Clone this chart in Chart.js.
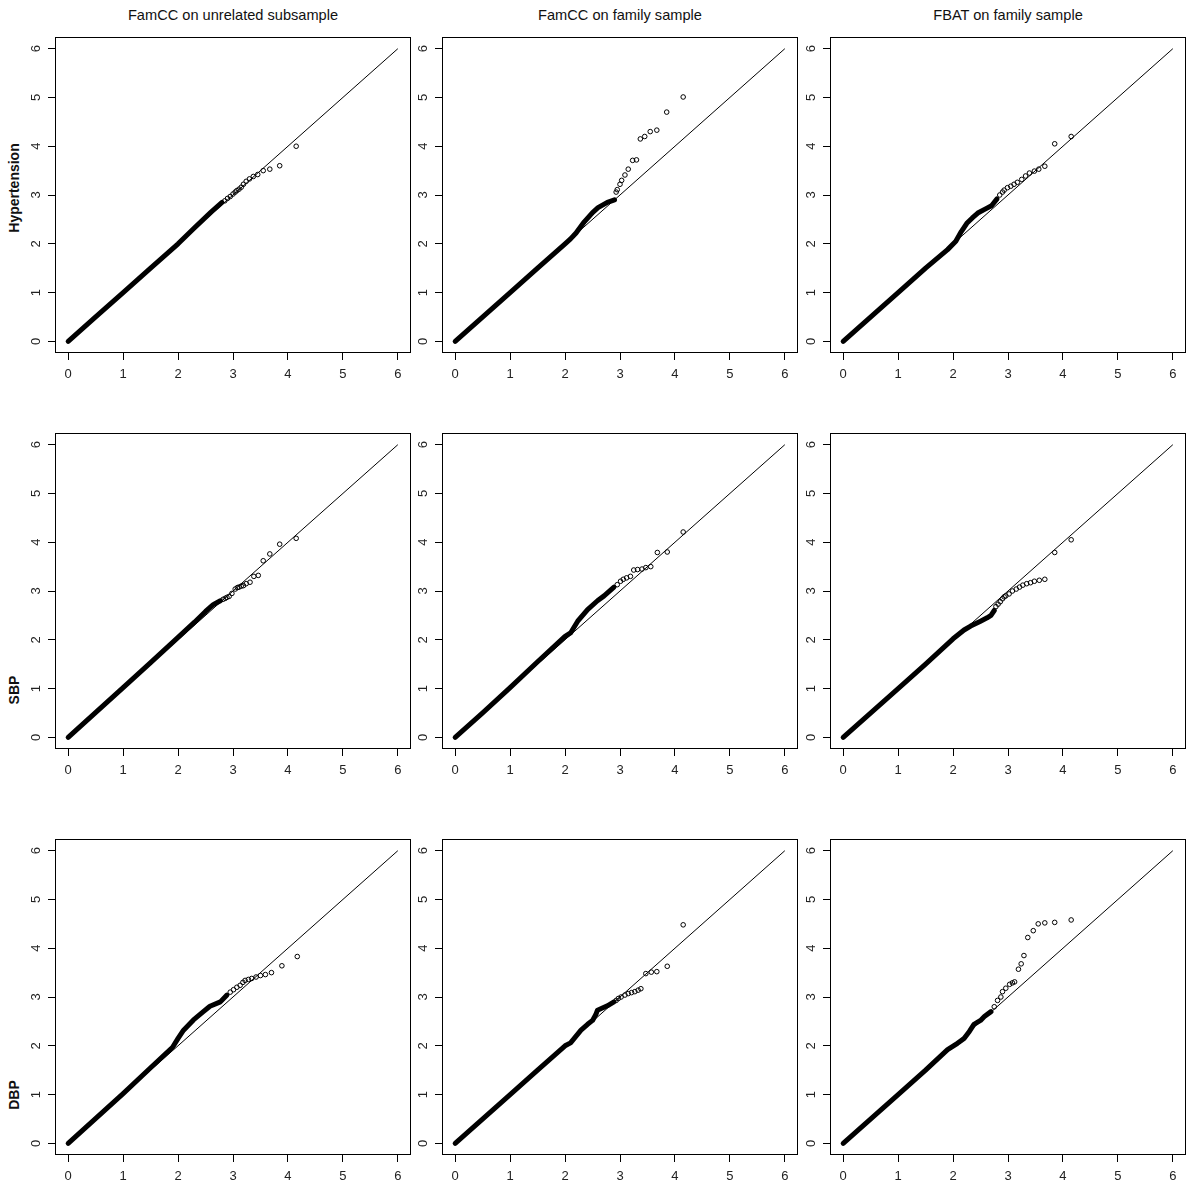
<!DOCTYPE html>
<html>
<head>
<meta charset="utf-8">
<script src="https://cdn.jsdelivr.net/npm/chart.js@4.4.1/dist/chart.umd.min.js"></script>
<style>
  html, body { margin:0; padding:0; background:#fff; width:1200px; height:1190px; overflow:hidden; }
  body { position:relative; font-family:"Liberation Sans", Arial, sans-serif; }
  canvas { position:absolute; }
  .title { position:absolute; width:356px; text-align:center; font-size:14.6px; line-height:20px; color:#111; }
  .rowlab { position:absolute; font-size:14px; font-weight:bold; color:#111; white-space:nowrap;
            transform:translate(-50%,-50%) rotate(-90deg); }
</style>
</head>
<body>
<script>
// ---------------- data ----------------
const tickValues = [0, 1, 2, 3, 4, 5, 6];
const colTitles = ["FamCC on unrelated subsample", "FamCC on family sample", "FBAT on family sample"];
const rowLabels = ["Hypertension", "SBP", "DBP"];
const refLine = [[0, 0], [6, 6]];

// Hypertension
const hypUnrelCurve = [[0,0],[0.5,0.5],[1,1],[1.5,1.5],[2,2.0],[2.3,2.33],[2.6,2.65],[2.8,2.85]];
const hypUnrelTail  = [[2.85,2.88],[2.9,2.93],[2.95,2.97],[3.0,3.02],[3.04,3.06],[3.07,3.09],[3.11,3.12],[3.15,3.16],[3.19,3.22],[3.24,3.28],[3.30,3.33],[3.37,3.38],[3.45,3.42],[3.55,3.5],[3.67,3.53],[3.85,3.6],[4.15,4.0]];
const hypFamCurve   = [[0,0],[1,1.0],[1.5,1.5],[2.0,2.0],[2.1,2.1],[2.2,2.22],[2.35,2.45],[2.5,2.64],[2.6,2.74],[2.77,2.85],[2.9,2.9]];
const hypFamTail    = [[2.93,3.06],[2.95,3.11],[3.0,3.22],[3.03,3.30],[3.09,3.41],[3.15,3.53],[3.23,3.71],[3.30,3.72],[3.37,4.15],[3.45,4.20],[3.55,4.30],[3.67,4.33],[3.85,4.70],[4.15,5.01]];
const hypFbatCurve  = [[0,0],[1,1],[1.5,1.5],[1.9,1.88],[2.05,2.05],[2.15,2.25],[2.25,2.42],[2.35,2.53],[2.45,2.63],[2.6,2.72],[2.7,2.78],[2.8,2.92]];
const hypFbatTail   = [[2.85,3.0],[2.9,3.06],[2.93,3.10],[2.99,3.15],[3.05,3.18],[3.11,3.22],[3.17,3.26],[3.25,3.32],[3.32,3.39],[3.39,3.45],[3.48,3.49],[3.56,3.53],[3.67,3.59],[3.85,4.05],[4.15,4.20]];

// SBP
const sbpUnrelCurve = [[0,0],[1,1.02],[1.5,1.53],[2,2.05],[2.3,2.36],[2.5,2.58],[2.64,2.72],[2.77,2.8]];
const sbpUnrelTail  = [[2.82,2.83],[2.86,2.85],[2.89,2.87],[2.93,2.89],[2.98,2.95],[3.04,3.04],[3.08,3.07],[3.11,3.08],[3.15,3.10],[3.19,3.11],[3.24,3.15],[3.31,3.18],[3.38,3.30],[3.46,3.32],[3.55,3.62],[3.67,3.76],[3.85,3.96],[4.15,4.08]];
const sbpFamCurve   = [[0,0],[0.5,0.5],[1,1.02],[1.5,1.55],[2.0,2.07],[2.1,2.14],[2.23,2.38],[2.41,2.62],[2.59,2.8],[2.71,2.9],[2.89,3.08]];
const sbpFamTail    = [[2.95,3.13],[3.01,3.2],[3.06,3.24],[3.12,3.27],[3.19,3.3],[3.25,3.43],[3.32,3.44],[3.40,3.45],[3.47,3.48],[3.56,3.5],[3.68,3.79],[3.86,3.8],[4.15,4.21]];
const sbpFbatCurve  = [[0,0],[1,1.0],[1.5,1.5],[2.0,2.02],[2.2,2.2],[2.32,2.28],[2.5,2.38],[2.62,2.45],[2.69,2.5],[2.75,2.6]];
const sbpFbatTail   = [[2.78,2.68],[2.82,2.73],[2.86,2.78],[2.90,2.84],[2.93,2.88],[2.96,2.9],[3.02,2.94],[3.08,3.0],[3.15,3.04],[3.21,3.08],[3.27,3.12],[3.34,3.15],[3.41,3.17],[3.48,3.2],[3.57,3.22],[3.67,3.24],[3.85,3.79],[4.15,4.05]];

// DBP
const dbpUnrelCurve = [[0,0],[1,1.02],[1.5,1.55],[1.9,1.97],[2.0,2.15],[2.1,2.32],[2.28,2.53],[2.46,2.70],[2.58,2.81],[2.77,2.90],[2.89,3.04]];
const dbpUnrelTail  = [[2.95,3.1],[3.01,3.15],[3.07,3.2],[3.13,3.24],[3.18,3.3],[3.22,3.34],[3.28,3.36],[3.34,3.38],[3.42,3.41],[3.50,3.44],[3.59,3.46],[3.70,3.50],[3.89,3.64],[4.17,3.83]];
const dbpFamCurve   = [[0,0],[1,1.0],[1.5,1.5],[2.0,2.0],[2.1,2.06],[2.29,2.32],[2.41,2.44],[2.5,2.52],[2.56,2.64],[2.59,2.73],[2.77,2.82],[2.89,2.9]];
const dbpFamTail    = [[2.93,2.93],[2.97,2.97],[3.02,3.0],[3.09,3.04],[3.15,3.07],[3.21,3.09],[3.27,3.11],[3.33,3.14],[3.38,3.17],[3.47,3.48],[3.57,3.51],[3.67,3.52],[3.86,3.63],[4.15,4.48]];
const dbpFbatCurve  = [[0,0],[1,1.0],[1.5,1.5],[1.9,1.92],[2.08,2.05],[2.2,2.15],[2.3,2.3],[2.38,2.44],[2.5,2.52],[2.57,2.6],[2.69,2.7]];
const dbpFbatTail   = [[2.75,2.8],[2.81,2.93],[2.87,3.0],[2.90,3.11],[2.96,3.18],[3.03,3.26],[3.08,3.29],[3.12,3.31],[3.19,3.57],[3.24,3.68],[3.29,3.85],[3.36,4.22],[3.46,4.36],[3.55,4.50],[3.67,4.52],[3.85,4.53],[4.15,4.58]];

// ---------------- layout ----------------
const colLeft = [55, 442, 830];
const rowTop = [37, 433, 839];
const rowLabelY = [188, 690, 1095];
const boxW = 356, boxH = 316;
const padL = 50, padT = 10, padR = 10, padB = 36;

const panels = [
  [hypUnrelCurve, hypUnrelTail], [hypFamCurve, hypFamTail], [hypFbatCurve, hypFbatTail],
  [sbpUnrelCurve, sbpUnrelTail], [sbpFamCurve, sbpFamTail], [sbpFbatCurve, sbpFbatTail],
  [dbpUnrelCurve, dbpUnrelTail], [dbpFamCurve, dbpFamTail], [dbpFbatCurve, dbpFbatTail]
];

const toXY = arr => arr.map(p => ({x: p[0], y: p[1]}));
const FONT = '"Liberation Sans", Arial, sans-serif';

const qqPlugin = {
  id: 'qqBox',
  afterDraw(chart) {
    const {ctx, chartArea: a, scales: {y}} = chart;
    ctx.save();
    ctx.strokeStyle = '#000';
    ctx.lineWidth = 1;
    const l = Math.round(a.left) + 0.5, t = Math.round(a.top) + 0.5;
    const r = Math.round(a.right) - 0.5, b = Math.round(a.bottom) - 0.5;
    ctx.strokeRect(l, t, r - l, b - t);
    ctx.fillStyle = '#222';
    ctx.font = '13px ' + FONT;
    ctx.textAlign = 'center';
    ctx.textBaseline = 'middle';
    y.ticks.forEach(tk => {
      const py = y.getPixelForValue(tk.value);
      ctx.save();
      ctx.translate(a.left - 19, py);
      ctx.rotate(-Math.PI / 2);
      ctx.fillText(String(tk.value), 0, 0);
      ctx.restore();
    });
    ctx.restore();
  }
};

// titles
colTitles.forEach((t, i) => {
  const d = document.createElement('div');
  d.className = 'title';
  d.textContent = t;
  d.style.left = colLeft[i] + 'px';
  d.style.top = '5px';
  document.body.appendChild(d);
});
rowLabels.forEach((t, i) => {
  const d = document.createElement('div');
  d.className = 'rowlab';
  d.textContent = t;
  d.style.left = '14px';
  d.style.top = rowLabelY[i] + 'px';
  document.body.appendChild(d);
});

panels.forEach((p, idx) => {
  const r = Math.floor(idx / 3), c = idx % 3;
  const cv = document.createElement('canvas');
  const W = padL + boxW + padR, H = padT + boxH + padB;
  cv.width = W; cv.height = H;
  cv.style.width = W + 'px'; cv.style.height = H + 'px';
  cv.style.left = (colLeft[c] - padL) + 'px';
  cv.style.top = (rowTop[r] - padT) + 'px';
  document.body.appendChild(cv);

  new Chart(cv, {
    type: 'scatter',
    data: {
      datasets: [
        { data: toXY(refLine), showLine: true, borderColor: '#000', borderWidth: 1, pointRadius: 0, order: 1 },
        { data: toXY(p[0]), showLine: true, borderColor: '#000', borderWidth: 5, pointRadius: 0,
          borderCapStyle: 'round', borderJoinStyle: 'round', order: 2 },
        { data: toXY(p[1]), showLine: false, pointStyle: 'circle', pointRadius: 2.3, pointBorderWidth: 1,
          pointBorderColor: '#000', pointBackgroundColor: 'rgba(0,0,0,0)', borderColor: '#000', order: 3 }
      ]
    },
    options: {
      responsive: false,
      animation: false,
      events: [],
      layout: { padding: { left: 0, top: padT, right: padR, bottom: 0 } },
      plugins: { legend: { display: false }, tooltip: { enabled: false } },
      scales: {
        x: {
          type: 'linear', min: -0.24, max: 6.24,
          afterFit: s => { s.height = padB; },
          afterBuildTicks: s => { s.ticks = tickValues.map(v => ({value: v})); },
          ticks: { includeBounds: false, stepSize: 1, color: '#222', padding: 7, maxRotation: 0,
                   font: { family: FONT, size: 13 } },
          grid: { drawOnChartArea: false, drawTicks: true, tickLength: 7, color: '#000', lineWidth: 1 },
          border: { display: false }
        },
        y: {
          type: 'linear', min: -0.24, max: 6.24,
          afterFit: s => { s.width = padL; },
          afterBuildTicks: s => { s.ticks = tickValues.map(v => ({value: v})); },
          ticks: { display: false, includeBounds: false, stepSize: 1 },
          grid: { drawOnChartArea: false, drawTicks: true, tickLength: 7, color: '#000', lineWidth: 1 },
          border: { display: false }
        }
      }
    },
    plugins: [qqPlugin]
  });
});
</script>
</body>
</html>
